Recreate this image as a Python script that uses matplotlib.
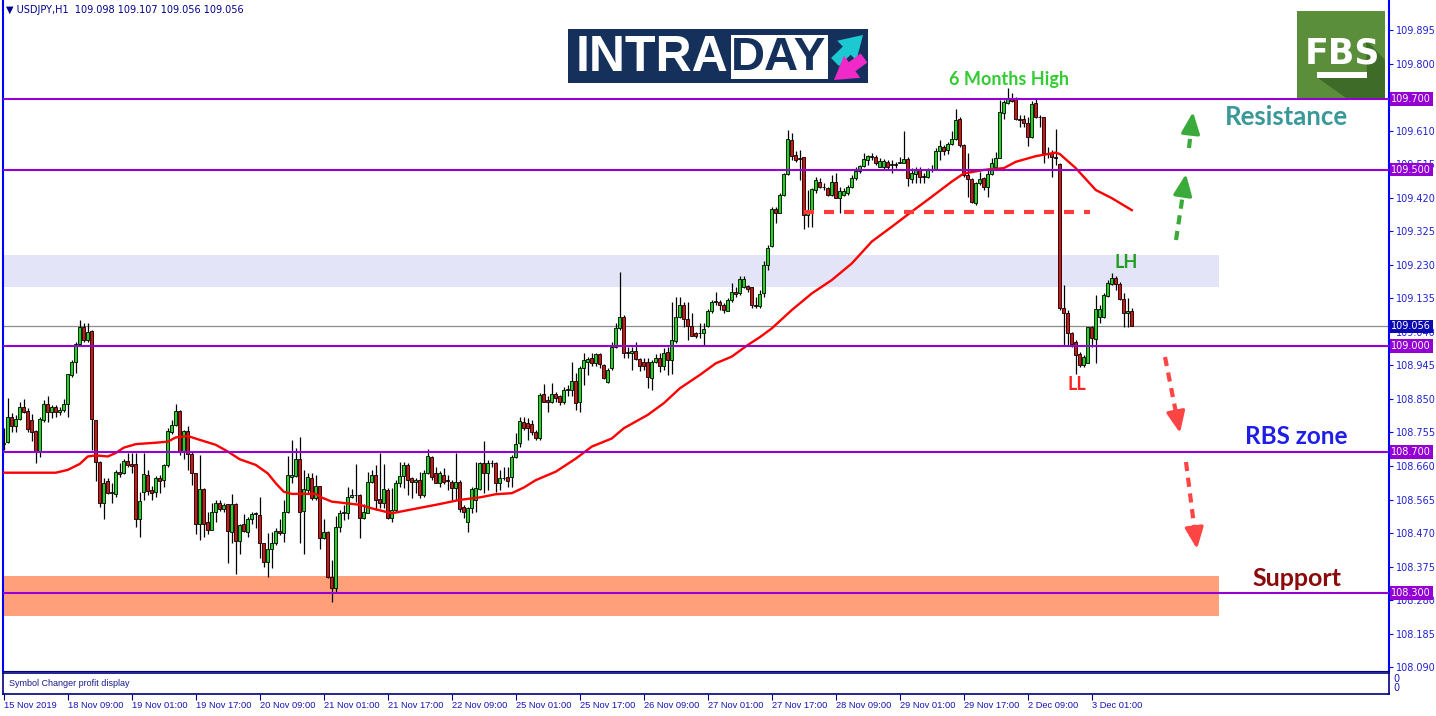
import numpy as np
import matplotlib
matplotlib.use("Agg")
import matplotlib.pyplot as plt
from matplotlib.patches import Rectangle, Polygon
from matplotlib.transforms import blended_transform_factory

# USDJPY H1 candles, 15 Nov 2019 - 3 Dec 2019
opens = [
    108.722, 108.729, 108.798, 108.774, 108.792, 108.828, 108.816, 108.790, 108.759, 108.700,
    108.790, 108.836, 108.814, 108.826, 108.814, 108.818, 108.837, 108.918, 108.954, 109.005,
    109.055, 109.017, 109.042, 108.790, 108.672, 108.556, 108.617, 108.584, 108.580, 108.644,
    108.639, 108.675, 108.667, 108.667, 108.511, 108.587, 108.634, 108.592, 108.587, 108.625,
    108.620, 108.663, 108.757, 108.776, 108.816, 108.700, 108.759, 108.694, 108.639, 108.495,
    108.596, 108.502, 108.480, 108.530, 108.554, 108.538, 108.551, 108.474, 108.551, 108.448,
    108.495, 108.474, 108.511, 108.524, 108.521, 108.441, 108.389, 108.424, 108.441, 108.475,
    108.471, 108.530, 108.630, 108.632, 108.681, 108.532, 108.592, 108.625, 108.568, 108.603,
    108.455, 108.474, 108.346, 108.313, 108.488, 108.526, 108.526, 108.573, 108.578, 108.578,
    108.514, 108.527, 108.615, 108.634, 108.566, 108.554, 108.592, 108.512, 108.535, 108.611,
    108.632, 108.663, 108.625, 108.616, 108.620, 108.578, 108.639, 108.685, 108.639, 108.613,
    108.634, 108.620, 108.614, 108.599, 108.614, 108.545, 108.502, 108.540, 108.564, 108.594,
    108.668, 108.639, 108.668, 108.669, 108.611, 108.627, 108.630, 108.628, 108.685, 108.724,
    108.786, 108.781, 108.778, 108.755, 108.738, 108.863, 108.847, 108.842, 108.863, 108.857,
    108.840, 108.876, 108.876, 108.902, 108.840, 108.937, 108.956, 108.967, 108.953, 108.977,
    108.946, 108.899, 108.937, 108.996, 109.050, 109.083, 108.984, 108.979, 108.987, 108.962,
    108.956, 108.956, 108.909, 108.954, 108.965, 108.942, 108.984, 108.961, 109.015, 109.081,
    109.116, 109.076, 109.057, 109.036, 109.036, 109.036, 109.057, 109.098, 109.126, 109.126,
    109.116, 109.100, 109.131, 109.154, 109.150, 109.168, 109.170, 109.167, 109.115, 109.113,
    109.149, 109.230, 109.284, 109.387, 109.378, 109.428, 109.487, 109.584, 109.541, 109.532,
    109.535, 109.371, 109.385, 109.442, 109.466, 109.452, 109.447, 109.428, 109.466, 109.419,
    109.428, 109.433, 109.450, 109.475, 109.497, 109.510, 109.527, 109.537, 109.537, 109.508,
    109.506, 109.522, 109.513, 109.516, 109.520, 109.520, 109.530, 109.473, 109.488, 109.499,
    109.483, 109.480, 109.499, 109.501, 109.553, 109.563, 109.556, 109.573, 109.586, 109.642,
    109.570, 109.485, 109.472, 109.406, 109.461, 109.475, 109.450, 109.488, 109.508, 109.534,
    109.660, 109.688, 109.699, 109.700, 109.642, 109.642, 109.633, 109.593, 109.688, 109.648,
    109.648, 109.546, 109.546, 109.535, 109.515, 109.107, 109.094, 109.036, 109.012, 108.977,
    108.946, 108.953, 109.053, 109.019, 109.083, 109.083, 109.142, 109.176, 109.192, 109.176,
    109.133, 109.094, 109.098,
]
highs = [
    108.767, 108.854, 108.809, 108.804, 108.842, 108.849, 108.823, 108.807, 108.762, 108.798,
    108.847, 108.858, 108.833, 108.833, 108.828, 108.849, 108.922, 108.960, 109.010, 109.074,
    109.064, 109.064, 109.045, 108.790, 108.674, 108.625, 108.625, 108.611, 108.648, 108.669,
    108.681, 108.696, 108.698, 108.696, 108.587, 108.698, 108.648, 108.603, 108.631, 108.634,
    108.665, 108.767, 108.790, 108.837, 108.818, 108.762, 108.773, 108.700, 108.640, 108.691,
    108.598, 108.530, 108.556, 108.565, 108.565, 108.556, 108.552, 108.582, 108.554, 108.497,
    108.524, 108.516, 108.530, 108.530, 108.571, 108.442, 108.471, 108.474, 108.483, 108.511,
    108.565, 108.688, 108.734, 108.710, 108.743, 108.648, 108.639, 108.639, 108.634, 108.604,
    108.511, 108.476, 108.393, 108.518, 108.535, 108.549, 108.601, 108.596, 108.665, 108.582,
    108.551, 108.644, 108.648, 108.663, 108.698, 108.666, 108.597, 108.599, 108.620, 108.672,
    108.672, 108.668, 108.630, 108.625, 108.644, 108.648, 108.707, 108.687, 108.658, 108.647,
    108.653, 108.634, 108.620, 108.698, 108.620, 108.549, 108.545, 108.601, 108.672, 108.672,
    108.731, 108.677, 108.677, 108.672, 108.649, 108.658, 108.658, 108.691, 108.753, 108.800,
    108.800, 108.795, 108.790, 108.762, 108.866, 108.892, 108.857, 108.894, 108.871, 108.861,
    108.885, 108.890, 108.956, 108.923, 108.942, 108.979, 108.970, 108.979, 108.979, 108.979,
    108.949, 108.937, 109.010, 109.064, 109.209, 109.088, 108.998, 108.998, 109.012, 108.965,
    108.965, 108.965, 108.961, 108.977, 108.979, 108.994, 108.996, 109.124, 109.138, 109.140,
    109.126, 109.126, 109.093, 109.041, 109.064, 109.064, 109.104, 109.129, 109.152, 109.131,
    109.121, 109.135, 109.178, 109.168, 109.197, 109.199, 109.173, 109.168, 109.140, 109.160,
    109.240, 109.286, 109.395, 109.395, 109.433, 109.490, 109.612, 109.603, 109.554, 109.556,
    109.537, 109.442, 109.447, 109.480, 109.475, 109.461, 109.452, 109.485, 109.490, 109.452,
    109.447, 109.457, 109.485, 109.508, 109.513, 109.548, 109.541, 109.548, 109.541, 109.532,
    109.529, 109.527, 109.527, 109.522, 109.537, 109.608, 109.535, 109.504, 109.506, 109.506,
    109.490, 109.504, 109.513, 109.560, 109.584, 109.570, 109.579, 109.608, 109.671, 109.648,
    109.573, 109.546, 109.475, 109.466, 109.494, 109.480, 109.504, 109.532, 109.551, 109.697,
    109.697, 109.730, 109.716, 109.707, 109.655, 109.655, 109.650, 109.695, 109.702, 109.655,
    109.650, 109.565, 109.556, 109.614, 109.518, 109.173, 109.101, 109.041, 109.017, 108.984,
    108.974, 109.055, 109.057, 109.144, 109.116, 109.149, 109.187, 109.206, 109.197, 109.182,
    109.149, 109.135, 109.107,
]
lows = [
    108.705, 108.724, 108.757, 108.757, 108.790, 108.809, 108.757, 108.732, 108.669, 108.686,
    108.785, 108.785, 108.795, 108.800, 108.804, 108.814, 108.798, 108.913, 108.924, 109.003,
    109.010, 109.012, 108.705, 108.618, 108.544, 108.511, 108.580, 108.556, 108.573, 108.630,
    108.636, 108.658, 108.639, 108.486, 108.459, 108.563, 108.578, 108.563, 108.573, 108.584,
    108.601, 108.658, 108.752, 108.773, 108.691, 108.679, 108.648, 108.606, 108.467, 108.450,
    108.459, 108.467, 108.478, 108.502, 108.532, 108.530, 108.386, 108.441, 108.355, 108.412,
    108.474, 108.459, 108.497, 108.483, 108.398, 108.374, 108.346, 108.372, 108.436, 108.464,
    108.445, 108.528, 108.613, 108.630, 108.442, 108.412, 108.582, 108.565, 108.565, 108.426,
    108.452, 108.344, 108.275, 108.304, 108.474, 108.507, 108.511, 108.568, 108.559, 108.455,
    108.511, 108.526, 108.611, 108.535, 108.540, 108.540, 108.509, 108.502, 108.530, 108.601,
    108.597, 108.578, 108.568, 108.583, 108.568, 108.573, 108.637, 108.620, 108.611, 108.601,
    108.609, 108.592, 108.564, 108.564, 108.531, 108.512, 108.474, 108.526, 108.531, 108.592,
    108.583, 108.592, 108.658, 108.587, 108.592, 108.620, 108.601, 108.601, 108.682, 108.715,
    108.762, 108.734, 108.748, 108.734, 108.734, 108.840, 108.814, 108.838, 108.842, 108.833,
    108.836, 108.857, 108.857, 108.819, 108.814, 108.890, 108.918, 108.942, 108.942, 108.937,
    108.906, 108.896, 108.932, 108.994, 109.046, 108.965, 108.965, 108.932, 108.961, 108.930,
    108.932, 108.880, 108.874, 108.951, 108.927, 108.932, 108.918, 108.921, 109.008, 109.079,
    109.055, 109.017, 109.027, 109.022, 109.022, 109.003, 109.055, 109.093, 109.116, 109.102,
    109.093, 109.098, 109.126, 109.140, 109.145, 109.164, 109.154, 109.107, 109.108, 109.107,
    109.140, 109.215, 109.281, 109.348, 109.376, 109.425, 109.485, 109.527, 109.522, 109.471,
    109.333, 109.338, 109.338, 109.433, 109.447, 109.442, 109.424, 109.424, 109.419, 109.378,
    109.424, 109.428, 109.447, 109.471, 109.491, 109.506, 109.513, 109.527, 109.513, 109.506,
    109.499, 109.501, 109.491, 109.504, 109.518, 109.518, 109.453, 109.461, 109.461, 109.461,
    109.461, 109.475, 109.494, 109.499, 109.527, 109.541, 109.544, 109.570, 109.584, 109.565,
    109.480, 109.421, 109.406, 109.400, 109.456, 109.442, 109.421, 109.485, 109.506, 109.532,
    109.642, 109.686, 109.692, 109.641, 109.622, 109.622, 109.567, 109.589, 109.646, 109.622,
    109.518, 109.532, 109.480, 109.513, 109.102, 109.003, 109.003, 108.998, 108.922, 108.941,
    108.941, 108.951, 108.998, 108.951, 109.064, 109.078, 109.138, 109.173, 109.159, 109.130,
    109.055, 109.055, 109.056,
]
closes = [
    108.726, 108.798, 108.774, 108.792, 108.828, 108.814, 108.764, 108.757, 108.700, 108.792,
    108.837, 108.814, 108.826, 108.814, 108.818, 108.837, 108.920, 108.954, 109.005, 109.055,
    109.017, 109.041, 108.792, 108.672, 108.554, 108.613, 108.584, 108.587, 108.644, 108.637,
    108.675, 108.663, 108.661, 108.511, 108.561, 108.636, 108.589, 108.584, 108.625, 108.618,
    108.663, 108.759, 108.776, 108.816, 108.700, 108.759, 108.694, 108.639, 108.495, 108.596,
    108.495, 108.480, 108.530, 108.554, 108.538, 108.549, 108.475, 108.551, 108.448, 108.493,
    108.476, 108.511, 108.524, 108.526, 108.441, 108.389, 108.426, 108.441, 108.475, 108.471,
    108.530, 108.634, 108.634, 108.681, 108.530, 108.596, 108.630, 108.568, 108.603, 108.455,
    108.474, 108.346, 108.313, 108.488, 108.526, 108.530, 108.573, 108.578, 108.577, 108.514,
    108.530, 108.615, 108.634, 108.563, 108.554, 108.594, 108.512, 108.535, 108.611, 108.632,
    108.663, 108.620, 108.616, 108.620, 108.578, 108.639, 108.688, 108.630, 108.613, 108.639,
    108.616, 108.618, 108.599, 108.614, 108.537, 108.531, 108.540, 108.594, 108.597, 108.668,
    108.639, 108.669, 108.669, 108.611, 108.627, 108.625, 108.618, 108.685, 108.721, 108.788,
    108.767, 108.767, 108.755, 108.738, 108.861, 108.842, 108.842, 108.863, 108.854, 108.840,
    108.876, 108.877, 108.902, 108.838, 108.939, 108.961, 108.962, 108.953, 108.977, 108.948,
    108.909, 108.932, 108.996, 109.050, 109.081, 108.981, 108.979, 108.987, 108.962, 108.942,
    108.942, 108.911, 108.956, 108.965, 108.942, 108.979, 108.959, 109.017, 109.081, 109.116,
    109.076, 109.057, 109.029, 109.027, 109.037, 109.047, 109.098, 109.126, 109.127, 109.116,
    109.102, 109.131, 109.154, 109.147, 109.189, 109.189, 109.161, 109.115, 109.113, 109.147,
    109.230, 109.277, 109.387, 109.378, 109.428, 109.487, 109.586, 109.539, 109.527, 109.529,
    109.371, 109.385, 109.445, 109.471, 109.452, 109.450, 109.428, 109.464, 109.419, 109.439,
    109.439, 109.452, 109.475, 109.497, 109.510, 109.529, 109.539, 109.539, 109.518, 109.524,
    109.524, 109.506, 109.516, 109.513, 109.522, 109.530, 109.475, 109.491, 109.499, 109.478,
    109.478, 109.499, 109.501, 109.553, 109.567, 109.554, 109.573, 109.586, 109.641, 109.570,
    109.485, 109.472, 109.409, 109.461, 109.472, 109.450, 109.488, 109.518, 109.534, 109.662,
    109.691, 109.702, 109.695, 109.642, 109.641, 109.633, 109.593, 109.686, 109.648, 109.650,
    109.546, 109.544, 109.535, 109.532, 109.107, 109.093, 109.036, 109.007, 108.974, 108.946,
    108.968, 109.053, 109.022, 109.104, 109.104, 109.144, 109.178, 109.192, 109.176, 109.133,
    109.093, 109.099, 109.056,
]

# moving average (read at sample bars)
ma_bar = [1, 14, 17, 20, 22, 24, 27, 29, 31, 34, 39, 42, 44, 47, 50, 54, 57, 60, 64, 67,
          69, 71, 73, 79, 80, 83, 87, 90, 93, 98, 103, 109, 115, 120, 124, 128, 131, 134, 139, 144,
          148, 153, 156, 162, 166, 170, 175, 179, 183, 187, 190, 193, 198, 203, 208, 213, 218, 223, 228, 233,
          238, 241, 246, 251, 254, 259, 264, 265, 269, 274, 278, 283]
ma_val = [108.641, 108.641, 108.649, 108.666, 108.687, 108.690, 108.687, 108.697, 108.712, 108.722,
          108.726, 108.729, 108.741, 108.745, 108.734, 108.720, 108.701, 108.679, 108.663, 108.639,
          108.611, 108.587, 108.581, 108.581, 108.573, 108.559, 108.554, 108.550, 108.540, 108.526,
          108.537, 108.550, 108.564, 108.571, 108.580, 108.583, 108.599, 108.620, 108.644, 108.681,
          108.715, 108.738, 108.767, 108.805, 108.838, 108.880, 108.918, 108.951, 108.970, 109.003,
          109.025, 109.050, 109.102, 109.149, 109.187, 109.234, 109.296, 109.338, 109.381, 109.423,
          109.466, 109.489, 109.499, 109.504, 109.522, 109.538, 109.548, 109.544, 109.504, 109.442,
          109.419, 109.385]

levels = [109.700, 109.500, 109.000, 108.700, 108.300]
current_price = 109.056
lh_zone = (109.167, 109.258)
support_zone = (108.235, 108.348)
break_level = 109.380
break_from, break_to = 201, 272.5

y_ticks = [108.090, 108.185, 108.280, 108.375, 108.470, 108.565, 108.660, 108.755, 108.850, 108.945,
           109.040, 109.135, 109.230, 109.325, 109.420, 109.515, 109.610, 109.705, 109.800, 109.895]
x_tick_bars = [1, 17, 33, 49, 65, 81, 97, 113, 129, 145, 161, 177, 193, 209, 225, 241, 257, 273]
x_tick_labels = ['15 Nov 2019', '18 Nov 09:00', '19 Nov 01:00', '19 Nov 17:00', '20 Nov 09:00',
                 '21 Nov 01:00', '21 Nov 17:00', '22 Nov 09:00', '25 Nov 01:00', '25 Nov 17:00',
                 '26 Nov 09:00', '27 Nov 01:00', '27 Nov 17:00', '28 Nov 09:00', '29 Nov 01:00',
                 '29 Nov 17:00', '2 Dec 09:00', '3 Dec 01:00']

W, H = 1436, 716
fig = plt.figure(figsize=(W / 100, H / 100), dpi=100)
fig.patch.set_facecolor('white')


def box(x0, y0, x1, y1):
    # pixel rectangle -> figure fraction
    return [x0 / W, 1 - y1 / H, (x1 - x0) / W, (y1 - y0) / H]


ax = fig.add_axes(box(3, 0, 1389, 671))
o = np.array(opens)
h = np.array(highs)
l = np.array(lows)
c = np.array(closes)
x = np.arange(1, len(o) + 1)

# zones behind candles
ax.axhspan(*lh_zone, xmin=0, xmax=0.877, color='#E4E4F8', lw=0, zorder=1)
ax.axhspan(*support_zone, xmin=0, xmax=0.877, color='#FFA07A', lw=0, zorder=1)

up = c >= o
ax.vlines(x, l, h, color='black', lw=0.9, zorder=3)
ax.bar(x, np.maximum(np.abs(c - o), 0.0015), width=0.75, bottom=np.minimum(o, c),
       color=np.where(up, '#1ED81E', '#D41414'), edgecolor='black', linewidth=0.6, zorder=4)

ax.plot(ma_bar, ma_val, color='#FF0000', lw=1.7, zorder=5)

for lv in levels:
    ax.axhline(lv, color='#9400D3', lw=1.5, zorder=6)
ax.axhline(current_price, color='#8C8C8C', lw=0.9, zorder=2)
ax.hlines(break_level, break_from, break_to, colors='#FF3B3B', lw=3, linestyles=(0, (2.4, 2.4)), zorder=6)

ax.set_xlim(0.8, 347.3)
ax.set_ylim(108.0791, 109.9805)
ax.set_xticks([])
ax.yaxis.tick_right()
ax.set_yticks(y_ticks)
# the 109.705 mark sits under the 109.700 tag, so its text is left out
ax.set_yticklabels(['' if abs(t - 109.705) < 1e-6 else f'{t:.3f}' for t in y_ticks])
ax.tick_params(axis='y', colors='#0000FF', labelcolor='#2020D0', labelsize=7, length=3, pad=2)
ax.spines['top'].set_visible(False)
for s in ('left', 'right'):
    ax.spines[s].set_color('#0000FF')
    ax.spines[s].set_linewidth(1.5)
ax.spines['bottom'].set_color('#000080')

# price tags on the right scale
tr = blended_transform_factory(ax.transAxes, ax.transData)
for lv in levels:
    ax.text(1.0017, lv, f'{lv:.3f}', transform=tr, color='white', fontsize=7, va='center', ha='left',
            bbox=dict(boxstyle='square,pad=0.18', fc='#9400D3', ec='none'), clip_on=False, zorder=8)
ax.text(1.0017, current_price, f'{current_price:.3f}', transform=tr, color='white', fontsize=7,
        va='center', ha='left', bbox=dict(boxstyle='square,pad=0.18', fc='#0A0AB0', ec='none'),
        clip_on=False, zorder=8)

# indicator sub-window with the time scale
ax2 = fig.add_axes(box(3, 673, 1389, 694))
ax2.set_xlim(0.8, 347.3)
ax2.set_ylim(0, 1)
ax2.set_yticks([])
ax2.set_xticks(x_tick_bars)
ax2.set_xticklabels(x_tick_labels, ha='left', fontsize=6.7, color='#1414B4', family='Liberation Sans')
ax2.tick_params(axis='x', length=4, color='#000080', pad=1)
for s in ax2.spines.values():
    s.set_color('#000080')
    s.set_linewidth(1.2)
ax2.text(0.004, 0.5, 'Symbol Changer profit display', transform=ax2.transAxes, fontsize=6.5,
         color='#1A1A8C', va='center', family='Liberation Sans')
ax2.text(1.003, 0.72, '0', transform=ax2.transAxes, fontsize=7, color='#1414B4', va='center')
ax2.text(1.003, 0.28, '0', transform=ax2.transAxes, fontsize=7, color='#1414B4', va='center')

# overlay in pixel units for labels and logos
ov = fig.add_axes([0, 0, 1, 1])
ov.set_xlim(0, W)
ov.set_ylim(H, 0)
ov.axis('off')
ov.patch.set_alpha(0)

ov.text(6, 10, f'\u25bc USDJPY,H1  {opens[-1]:.3f} {highs[-1]:.3f} {lows[-1]:.3f} {closes[-1]:.3f}',
        fontsize=7, color='#00008B', va='center')

notes = [('6 Months High', 1009, 80, '#33CC33', 13),
         ('Resistance', 1286, 117, '#3A9898', 18.5),
         ('LH', 1126, 262, '#1E9E1E', 13),
         ('LL', 1077, 384, '#FF2222', 13),
         ('RBS zone', 1296, 436, '#1E1EE6', 17.5),
         ('Support', 1297, 578, '#8B0A0A', 18)]
for txt, px, py, col, fs in notes:
    ov.text(px, py, txt, color=col, fontsize=fs, fontweight='bold', family='Lato', ha='center', va='center')

arrows = [((1176, 240), (1186, 174), '#3AAA3A'),
          ((1189, 148), (1193, 112), '#3AAA3A'),
          ((1165, 357), (1180, 433), '#FF4444'),
          ((1186, 462), (1197, 549), '#FF4444')]
for (tx, ty), (hx, hy), col in arrows:
    mx, my = tx + 0.78 * (hx - tx), ty + 0.78 * (hy - ty)
    ov.plot([tx, mx], [ty, my], color=col, lw=3, ls=(0, (2.2, 1.6)))
    ov.annotate('', xy=(hx, hy), xytext=(mx, my),
                arrowprops=dict(arrowstyle='-|>,head_width=0.35,head_length=0.8', color=col, lw=2.5,
                                mutation_scale=16, shrinkA=0, shrinkB=0))

# INTRADAY logo
ov.add_patch(Rectangle((568, 29), 300, 54, fc='#15315B', ec='none'))
ov.text(576, 58, 'INTRA', color='white', fontsize=36, fontweight='bold', family='Liberation Sans',
        ha='left', va='center')
ov.add_patch(Rectangle((731, 35), 97, 44, fc='white', ec='none'))
ov.text(779, 58, 'DAY', color='#15315B', fontsize=34, fontweight='bold', family='Liberation Sans',
        ha='center', va='center')
ov.annotate('', xy=(863, 35), xytext=(835, 62),
            arrowprops=dict(arrowstyle='simple,head_width=1.1,head_length=0.9,tail_width=0.45',
                            fc='#1CC8D2', ec='none', mutation_scale=18, shrinkA=0, shrinkB=0))
ov.annotate('', xy=(834, 80), xytext=(864, 58),
            arrowprops=dict(arrowstyle='simple,head_width=1.1,head_length=0.9,tail_width=0.45',
                            fc='#F02AC8', ec='none', mutation_scale=18, shrinkA=0, shrinkB=0))

# FBS logo
ov.add_patch(Rectangle((1297, 11), 88, 87, fc='#5A8E3A', ec='none'))
ov.add_patch(Polygon([(1366, 40), (1385, 60), (1385, 98), (1346, 98), (1318, 78), (1367, 78)],
                     closed=True, fc='#3E6B27', ec='none'))
ov.text(1342, 54, 'FBS', color='white', fontsize=25, fontweight='bold',
        family=['Liberation Sans Narrow', 'DejaVu Sans'], ha='center', va='center')
ov.add_patch(Rectangle((1317, 72), 50, 6, fc='white', ec='none'))

fig.savefig('out.png', dpi=100, facecolor='white')
